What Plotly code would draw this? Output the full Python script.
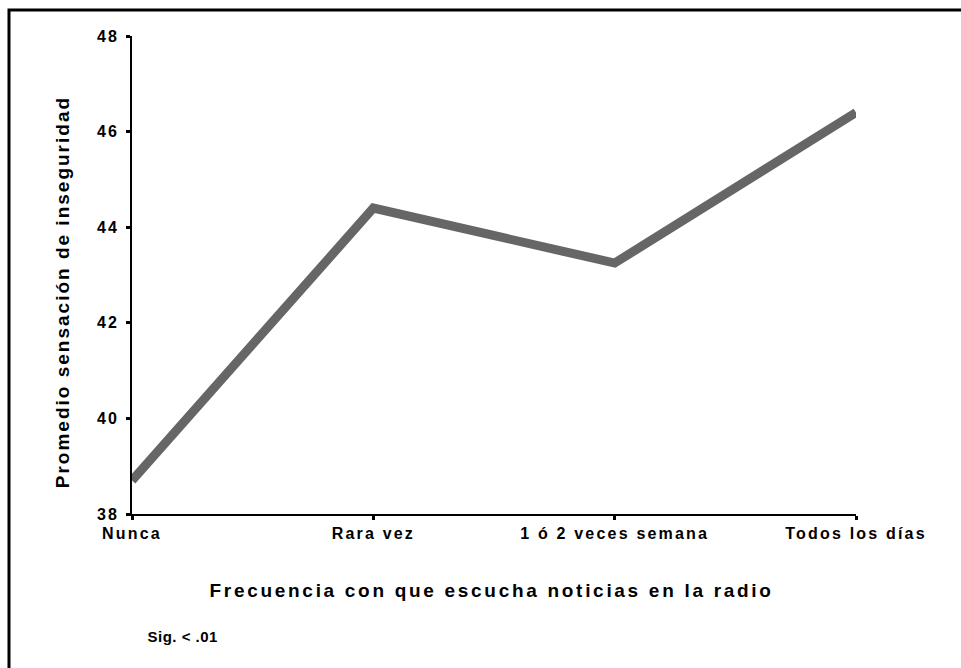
import plotly.graph_objects as go

categories = ["Nunca", "Rara vez", "1 ó 2 veces semana", "Todos los días"]
values = [38.7, 44.4, 43.25, 46.4]
y_ticks = [38, 40, 42, 44, 46, 48]

x_title = "Frecuencia con que escucha noticias en la radio"
y_title = "Promedio sensación de inseguridad"
note = "Sig. < .01"

FONT = "Liberation Sans, Arial, sans-serif"

fig = go.Figure()
fig.add_trace(go.Scatter(
    x=list(range(len(categories))), y=values, mode="lines",
    line=dict(color="#666666", width=9),
    hoverinfo="skip", showlegend=False,
))

fig.update_layout(
    width=961, height=668,
    margin=dict(l=132, r=105, t=36, b=154),
    paper_bgcolor="white", plot_bgcolor="white",
    font=dict(family=FONT, color="black"),
    xaxis=dict(
        range=[0, 3], tickvals=list(range(len(categories))), ticktext=categories,
        showgrid=False, zeroline=False, showline=True, linecolor="black", linewidth=2,
        ticks="outside", ticklen=4, tickwidth=3, tickcolor="black",
        tickfont=dict(size=16, family=FONT, weight="bold"),
    ),
    yaxis=dict(
        range=[38, 48], tickvals=y_ticks, ticktext=[str(v) for v in y_ticks],
        showgrid=False, zeroline=False, showline=True, linecolor="black", linewidth=2,
        ticks="outside", ticklen=4, tickwidth=3, tickcolor="black",
        ticklabelstandoff=4,
        tickfont=dict(size=16, family=FONT, weight="bold"),
    ),
    annotations=[
        dict(text=y_title, xref="paper", yref="paper", x=-0.0967, y=0.464,
             textangle=-90, showarrow=False, xanchor="center", yanchor="middle",
             font=dict(size=19, family=FONT, weight="bold")),
        dict(text=x_title, xref="paper", yref="paper", x=0.497, y=-0.161,
             showarrow=False, xanchor="center", yanchor="middle",
             font=dict(size=19, family=FONT, weight="bold")),
        dict(text=note, xref="paper", yref="paper", x=0.0221, y=-0.257,
             showarrow=False, xanchor="left", yanchor="middle",
             font=dict(size=15, family="Liberation Sans Narrow, Arial Narrow, sans-serif", weight="bold")),
    ],
    shapes=[
        dict(type="rect", xref="paper", yref="paper",
             x0=-0.1699, x1=1.2, y0=-0.4, y1=1.0544,
             line=dict(color="black", width=3), fillcolor="rgba(0,0,0,0)", layer="below"),
    ],
)

post = """
document.body.style.margin = '0';
var gd = document.getElementById('{plot_id}');
gd.querySelectorAll('.annotation-text').forEach(function(e){
   var t = e.textContent;
   if (t.indexOf('Sig') === 0) { e.style.letterSpacing = '0.5px'; }
   else if (t.indexOf('Promedio') === 0) { e.style.letterSpacing = '2px'; }
   else { e.style.letterSpacing = '2.7px'; }
});
gd.querySelectorAll('.xtick text').forEach(function(e){ e.style.letterSpacing = '2.2px'; });
gd.querySelectorAll('.ytick text').forEach(function(e){ e.style.letterSpacing = '2px'; });
"""

fig.write_html("out.html", post_script=post, config={"displayModeBar": False})
